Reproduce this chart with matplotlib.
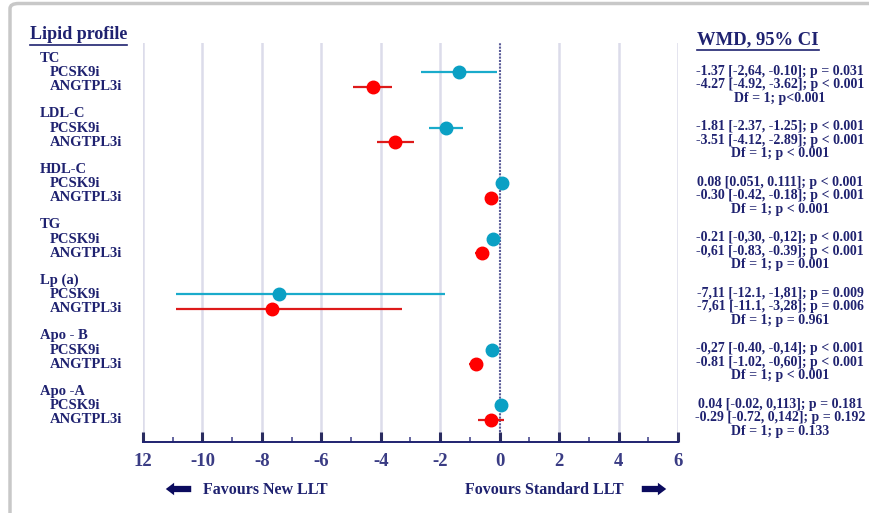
import matplotlib
matplotlib.use('Agg')
import matplotlib.pyplot as plt
from matplotlib.patches import FancyBboxPatch
from matplotlib.lines import Line2D
import matplotlib.transforms as mtransforms
import numpy as np

# data
groups = ['TC', 'LDL-C', 'HDL-C', 'TG', 'Lp (a)', 'Apo - B', 'Apo -A']
pcsk9_est = [-1.37, -1.81, 0.08, -0.21, -7.42, -0.27, 0.04]
pcsk9_lo = [-2.64, -2.37, 0.051, -0.30, -10.9, -0.40, -0.02]
pcsk9_hi = [-0.10, -1.25, 0.111, -0.12, -1.85, -0.14, 0.113]
ang_est = [-4.27, -3.51, -0.30, -0.61, -7.65, -0.81, -0.29]
ang_lo = [-4.92, -4.12, -0.42, -0.83, -10.9, -1.02, -0.72]
ang_hi = [-3.62, -2.89, -0.18, -0.39, -3.28, -0.60, 0.142]

pcsk9_txt = ['-1.37 [-2,64, -0.10]; p = 0.031', '-1.81 [-2.37, -1.25]; p < 0.001',
             '0.08 [0.051, 0.111]; p < 0.001', '-0.21 [-0,30, -0,12]; p < 0.001',
             '-7,11 [-12.1, -1,81]; p = 0.009', '-0,27 [-0.40, -0,14]; p < 0.001',
             '0.04 [-0.02, 0,113]; p = 0.181']
ang_txt = ['-4.27 [-4.92, -3.62]; p < 0.001', '-3.51 [-4.12, -2.89]; p < 0.001',
           '-0.30 [-0.42, -0.18]; p < 0.001', '-0,61 [-0.83, -0.39]; p < 0.001',
           '-7,61 [-11.1, -3,28]; p = 0.006', '-0.81 [-1.02, -0,60]; p < 0.001',
           '-0.29 [-0.72, 0,142]; p = 0.192']
df_txt = ['Df = 1; p<0.001', 'Df = 1; p < 0.001', 'Df = 1; p < 0.001',
          'Df = 1; p = 0.001', 'Df = 1; p = 0.961', 'Df = 1; p < 0.001',
          'Df = 1; p = 0.133']

tick_vals = [-12, -10, -8, -6, -4, -2, 0, 2, 4, 6]
tick_labels = ['12', '-10', '-8', '-6', '-4', '-2', '0', '2', '4', '6']

navy = '#1f2270'
tick_col = '#3a3c84'
teal = '#0aa0c4'
teal_line = '#1aabcb'
red = '#ff0000'
red_line = '#dd1a1a'
serif = 'Liberation Serif'

W, H = 870, 513
fig = plt.figure(figsize=(W / 100, H / 100), dpi=100)
ax = fig.add_axes([143 / W, 1 - 442 / H, (678 - 143) / W, (442 - 43) / H])

gap = 0.27
yp = np.arange(len(groups))
ya = yp + gap

for x in tick_vals:
    if x != 0:
        ax.axvline(x, color='#dcdcea', lw=1.8, zorder=0)
ax.axvline(0, color='#5a5c98', lw=1.5, ls=(0, (1, 0.6)), zorder=1)

ax.hlines(yp, pcsk9_lo, pcsk9_hi, color=teal_line, lw=1.6, zorder=2)
ax.hlines(ya, ang_lo, ang_hi, color=red_line, lw=1.6, zorder=2)
ax.plot(pcsk9_est, yp, 'o', color=teal, ms=9, zorder=3)
ax.plot(ang_est, ya, 'o', color=red, ms=9, zorder=3)

ax.set_xlim(-12, 6)
ax.set_ylim((442 - 72) / 55.5, (43 - 72) / 55.5)
for s in ['top', 'right', 'left']:
    ax.spines[s].set_visible(False)
ax.spines['bottom'].set_color(navy)
ax.spines['bottom'].set_linewidth(1.4)
ax.set_yticks([])
ax.set_xticks(tick_vals)
ax.set_xticklabels(tick_labels)
ax.set_xticks(np.arange(-11, 6, 2), minor=True)
ax.tick_params(axis='x', which='major', direction='in', length=7, width=2.2,
               color='#2a2c60', pad=8)
ax.tick_params(axis='x', which='minor', direction='in', length=3.5, width=1.2,
               color='#4a4c90')
for lab in ax.get_xticklabels():
    lab.set_fontfamily(serif)
    lab.set_fontweight('bold')
    lab.set_fontsize(13.5)
    lab.set_color(tick_col)

# row labels on the left and stats on the right
tr = mtransforms.blended_transform_factory(fig.transFigure, ax.transData)
kw = dict(family=serif, weight='bold', color=navy, va='center', transform=tr)
for i, g in enumerate(groups):
    ax.text(40 / W, yp[i] - 0.25, g, fontsize=10.5, **kw)
    ax.text(50 / W, yp[i] + 0.01, 'PCSK9i', fontsize=10.5, **kw)
    ax.text(50 / W, yp[i] + 0.27, 'ANGTPL3i', fontsize=10.5, **kw)
    ax.text(780 / W, yp[i] - 0.01, pcsk9_txt[i], fontsize=10, ha='center', **kw)
    ax.text(780 / W, yp[i] + 0.23, ang_txt[i], fontsize=10, ha='center', **kw)
    ax.text(780 / W, yp[i] + 0.47, df_txt[i], fontsize=10, ha='center', **kw)

t1 = fig.text(30 / W, 1 - 35 / H, 'Lipid profile', family=serif, weight='bold',
              fontsize=13, color=navy, va='center')
t2 = fig.text(697 / W, 1 - 40 / H, 'WMD, 95% CI', family=serif, weight='bold',
              fontsize=13.4, color=navy, va='center')

fig.text(203 / W, 1 - 490 / H, 'Favours New LLT', family=serif, weight='bold',
         fontsize=11.5, color=navy, va='center')
fig.text(465 / W, 1 - 490 / H, 'Fovours Standard LLT', family=serif, weight='bold',
         fontsize=11.5, color=navy, va='center')
arrow = dict(arrowstyle='simple,head_width=0.9,head_length=0.6,tail_width=0.45',
             color='#0b0b5e', lw=0)
fig.add_artist(plt.matplotlib.text.Annotation('', xy=(163 / W, 1 - 489 / H),
               xytext=(194 / W, 1 - 489 / H), xycoords='figure fraction',
               arrowprops=arrow))
fig.add_artist(plt.matplotlib.text.Annotation('', xy=(669 / W, 1 - 489 / H),
               xytext=(639 / W, 1 - 489 / H), xycoords='figure fraction',
               arrowprops=arrow))

# underline the two headers
fig.canvas.draw()
r = fig.canvas.get_renderer()
for t in [t1, t2]:
    bb = t.get_window_extent(r).transformed(fig.transFigure.inverted())
    fig.add_artist(Line2D([bb.x0, bb.x1], [bb.y0 - 1 / H, bb.y0 - 1 / H],
                          color=navy, lw=1.2, transform=fig.transFigure))

# grey frame
fig.add_artist(FancyBboxPatch((10 / W, -0.2), 1.2, 1.2 - 3.5 / H,
               boxstyle='round,pad=0,rounding_size=0.01', fill=False,
               edgecolor='#c8c8c8', lw=2.5, transform=fig.transFigure))

fig.savefig('out.png', dpi=100)
